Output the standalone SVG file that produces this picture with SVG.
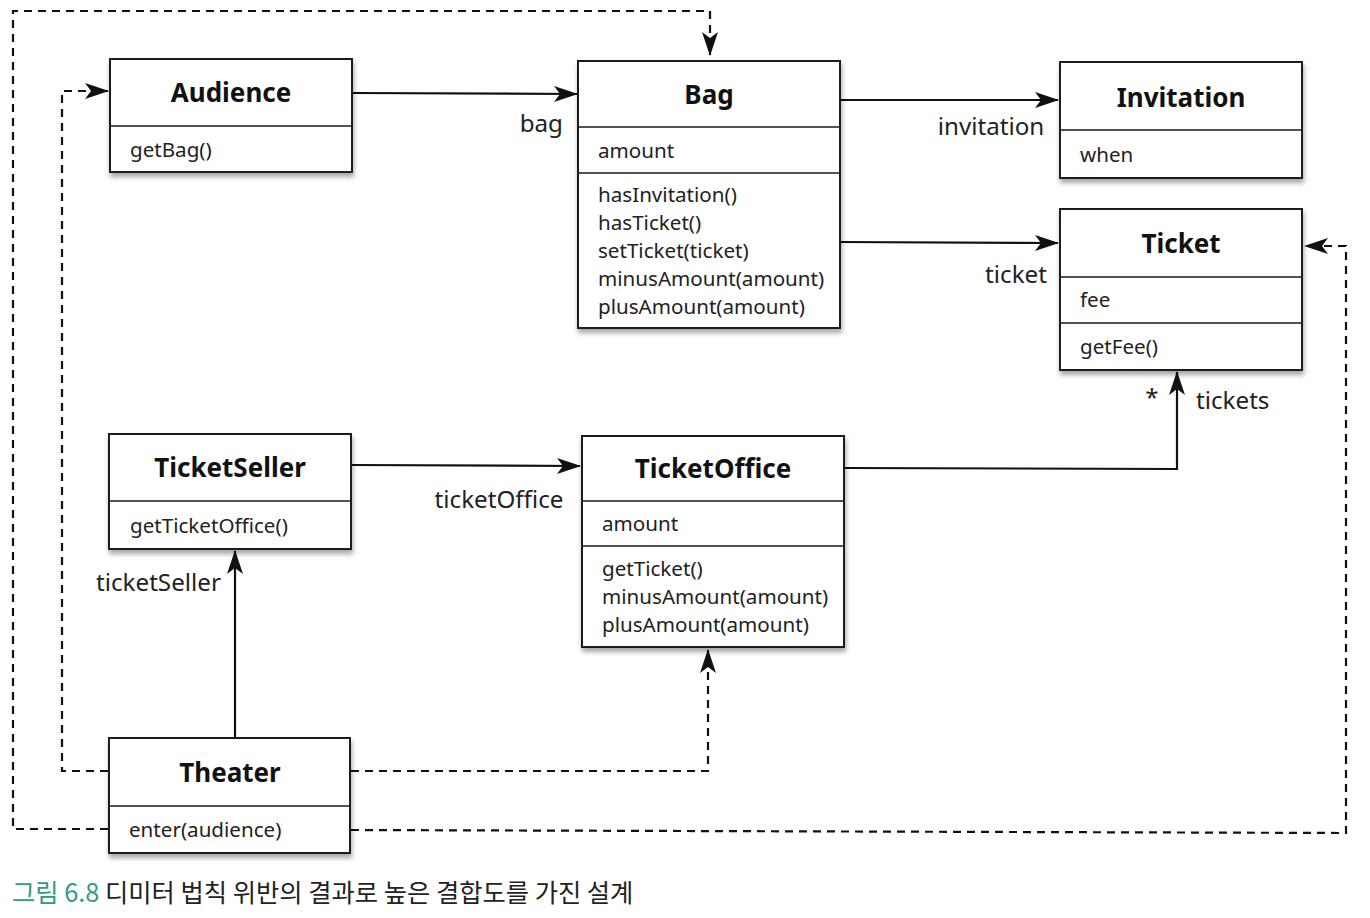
<svg xmlns="http://www.w3.org/2000/svg" width="1370" height="918" viewBox="0 0 1370 918">
<style>
.box{fill:#fff;stroke:#1a1a1a;stroke-width:2}
.div{stroke:#1a1a1a;stroke-width:1.6}
.t{font-family:"Noto Sans","Open Sans",sans-serif;font-weight:bold;font-size:26px;fill:#111;text-anchor:middle}
.m{font-family:"Noto Sans","Open Sans",sans-serif;font-size:20.6px;fill:#222}
.l{font-family:"Noto Sans","Open Sans",sans-serif;font-size:24.2px;fill:#222}
.s{fill:none;stroke:#111;stroke-width:2.2}
.d{fill:none;stroke:#111;stroke-width:2.2;stroke-dasharray:8,6}
</style>
<defs>
<marker id="ah" refX="23" refY="9" markerWidth="24" markerHeight="18" markerUnits="userSpaceOnUse" orient="auto" overflow="visible">
<path d="M0,1 L24,9 L0,17 L6,9 z" fill="#111"/>
</marker>
<filter id="sh" x="-10%" y="-10%" width="120%" height="130%">
<feDropShadow dx="1" dy="4" stdDeviation="2.5" flood-color="#000" flood-opacity="0.35"/>
</filter>
</defs>
<rect width="1370" height="918" fill="#fff"/>

<g id="connectors">
<path class="s" d="M352,93 L577,94" marker-end="url(#ah)"/>
<path class="s" d="M840,100 L1058,100" marker-end="url(#ah)"/>
<path class="s" d="M840,242 L1058,243" marker-end="url(#ah)"/>
<path class="s" d="M352,465 L580,466" marker-end="url(#ah)"/>
<path class="s" d="M844,468 L1177,469 L1177,372" marker-end="url(#ah)"/>
<path class="s" d="M235,738 L235,551" marker-end="url(#ah)"/>
<path class="d" d="M108,771 L62,771 L62,91 L108,91" marker-end="url(#ah)"/>
<path class="d" d="M108,829 L13,829 L13,11 L710,11 L710,55" marker-end="url(#ah)"/>
<path class="d" d="M351,771 L708,771 L708,650" marker-end="url(#ah)"/>
<path class="d" d="M351,830 L1346,833 L1346,246 L1305,246" marker-end="url(#ah)"/>
<text class="l" x="563" y="132" text-anchor="end">bag</text>
<text class="l" x="991" y="135" text-anchor="middle">invitation</text>
<text class="l" x="1016" y="283" text-anchor="middle">ticket</text>
<text class="l" x="499" y="508" text-anchor="middle">ticketOffice</text>
<text class="l" x="1152" y="406" text-anchor="middle" font-size="19">*</text>
<text class="l" x="1196" y="409">tickets</text>
<text class="l" x="96" y="591">ticketSeller</text>
</g>

<g id="Audience">
<rect class="box" x="110" y="59" width="242" height="113" filter="url(#sh)"/>
<line class="div" x1="110" y1="126" x2="352" y2="126"/>
<text class="t" x="231" y="102">Audience</text>
<text class="m" x="130" y="157">getBag()</text>
</g>

<g id="Bag">
<rect class="box" x="578" y="61" width="262" height="267" filter="url(#sh)"/>
<line class="div" x1="578" y1="127" x2="840" y2="127"/>
<line class="div" x1="578" y1="173" x2="840" y2="173"/>
<text class="t" x="709" y="104">Bag</text>
<text class="m" x="598" y="158">amount</text>
<text class="m" x="598" y="202">hasInvitation()</text>
<text class="m" x="598" y="230">hasTicket()</text>
<text class="m" x="598" y="258">setTicket(ticket)</text>
<text class="m" x="598" y="286">minusAmount(amount)</text>
<text class="m" x="598" y="314">plusAmount(amount)</text>
</g>

<g id="Invitation">
<rect class="box" x="1060" y="62" width="242" height="116" filter="url(#sh)"/>
<line class="div" x1="1060" y1="130" x2="1302" y2="130"/>
<text class="t" x="1181" y="107">Invitation</text>
<text class="m" x="1080" y="162">when</text>
</g>

<g id="Ticket">
<rect class="box" x="1060" y="209" width="242" height="161" filter="url(#sh)"/>
<line class="div" x1="1060" y1="277" x2="1302" y2="277"/>
<line class="div" x1="1060" y1="323" x2="1302" y2="323"/>
<text class="t" x="1181" y="253">Ticket</text>
<text class="m" x="1080" y="307">fee</text>
<text class="m" x="1080" y="354">getFee()</text>
</g>

<g id="TicketSeller">
<rect class="box" x="109" y="434" width="242" height="115" filter="url(#sh)"/>
<line class="div" x1="109" y1="501" x2="351" y2="501"/>
<text class="t" x="230" y="477">TicketSeller</text>
<text class="m" x="130" y="533">getTicketOffice()</text>
</g>

<g id="TicketOffice">
<rect class="box" x="582" y="436" width="262" height="211" filter="url(#sh)"/>
<line class="div" x1="582" y1="501" x2="844" y2="501"/>
<line class="div" x1="582" y1="546" x2="844" y2="546"/>
<text class="t" x="713" y="478">TicketOffice</text>
<text class="m" x="602" y="531">amount</text>
<text class="m" x="602" y="576">getTicket()</text>
<text class="m" x="602" y="604">minusAmount(amount)</text>
<text class="m" x="602" y="632">plusAmount(amount)</text>
</g>

<g id="Theater">
<rect class="box" x="109" y="738" width="241" height="115" filter="url(#sh)"/>
<line class="div" x1="109" y1="806" x2="350" y2="806"/>
<text class="t" x="230" y="782">Theater</text>
<text class="m" x="129" y="837">enter(audience)</text>
</g>

<text x="12" y="902" font-family="'Noto Sans CJK KR','Noto Sans',sans-serif" font-size="25.3" fill="#222"><tspan fill="#2f9c7c">그림 6.8</tspan> 디미터 법칙 위반의 결과로 높은 결합도를 가진 설계</text>
</svg>
